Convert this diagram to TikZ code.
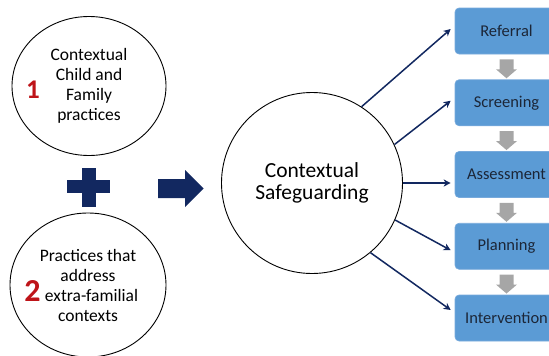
\documentclass[tikz,border=0pt]{standalone}
\usepackage{fontspec}
\setmainfont{Carlito}
\usetikzlibrary{shapes.geometric,arrows.meta,calc}
\definecolor{navy}{RGB}{18,40,96}
\definecolor{boxblue}{RGB}{91,155,213}
\definecolor{boxedge}{RGB}{120,170,220}
\definecolor{boxtext}{RGB}{28,38,55}
\definecolor{numred}{RGB}{190,20,25}
\definecolor{graya}{RGB}{166,166,166}
\tikzset{
  bubble/.style={ellipse,draw=black,line width=0.9pt,inner sep=0pt,align=center,
    font=\fontsize{17.5}{20}\selectfont},
  bignum/.style={text=numred,font=\bfseries\fontsize{27}{27}\selectfont,inner sep=0pt},
  stagebox/.style={rectangle,rounded corners=4pt,fill=boxblue,draw=boxedge,line width=0.6pt,
    minimum width=103pt,minimum height=46pt,inner sep=0pt,text=boxtext,
    font=\fontsize{16.5}{19}\selectfont},
  conn/.style={draw=navy,line width=1.5pt,-{Stealth[length=7pt,width=7pt,inset=2pt]}},
}
\begin{document}
\begin{tikzpicture}[x=1pt,y=-1pt]
\useasboundingbox (0,0) rectangle (549,356);
% left bubbles
\node[bubble,minimum width=154pt,minimum height=139pt] (c1) at (89,86)
  {Contextual\\Child and\\Family\\practices};
\node[bignum] (n1) at (33,90) {1};
\node[bubble,minimum width=156pt,minimum height=144pt] (c2) at (88,285)
  {Practices that\\address\\\hspace*{7pt}extra-familial\\contexts};
\node[bignum,font=\bfseries\fontsize{32}{32}\selectfont] (n2) at (32.5,291) {2};
% plus sign
\fill[navy] (82,168) rectangle (96,207);
\fill[navy] (67,180) rectangle (110,193);
% fat arrow
\fill[navy] (158,179) -- (185,179) -- (185,170) -- (203.5,188.5) -- (185,207) -- (185,198) -- (158,198) -- cycle;
% central circle
\node[circle,draw=black,line width=0.9pt,minimum size=181pt,inner sep=0pt,align=center,
  font=\fontsize{21.5}{22}\selectfont] (mid) at (312,183) {Contextual\\Safeguarding};
% stage boxes
\node[stagebox] (b1) at (506.5,31) {Referral};
\node[stagebox] (b2) at (506.5,102.75) {Screening};
\node[stagebox] (b3) at (506.5,174.5) {Assessment};
\node[stagebox] (b4) at (506.5,246.25) {Planning};
\node[stagebox] (b5) at (506.5,318) {Intervention};
% gray down arrows
\foreach \a/\b in {b1/b2,b2/b3,b3/b4,b4/b5}{
  \fill[graya] ($(\a.south)+(-7,5)$) -- ++(14,0) -- ++(0,10) -- ++(3.5,0)
     -- ($(\a.south)+(0,24)$) -- ++(-10.5,-9) -- ++(3.5,0) -- cycle;
}
% connectors
\draw[conn] (mid.57) -- ([xshift=-4pt,yshift=2pt]b1.west);
\draw[conn] (mid.25.6) -- ([xshift=-4pt,yshift=2pt]b2.west);
\draw[conn] (mid.east) -- ([xshift=-4pt]mid.east -| b3.west);
\draw[conn] (mid.-24.5) -- ([xshift=-4pt,yshift=-4pt]b4.west);
\draw[conn] (mid.-50) -- ([xshift=-4pt,yshift=8pt]b5.west);
\end{tikzpicture}
\end{document}
